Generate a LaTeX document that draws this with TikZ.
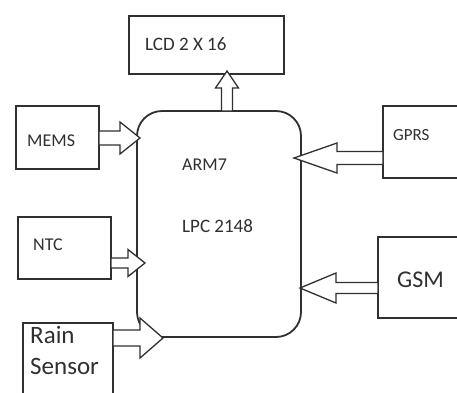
\documentclass[tikz,border=0pt]{standalone}
\usepackage{fontspec}
\setmainfont{Carlito}
\usetikzlibrary{calc}
\definecolor{ink}{HTML}{303030}
\tikzset{
  box/.style={draw=ink, line width=1.8pt, fill=white},
  lbl/.style={anchor=base west, inner sep=0pt, text=ink},
  blk/.style={draw=ink, line width=1.3pt, fill=white, line join=miter},
}
% #1 tail, #2 tip, #3 shaft half, #4 head half, #5 signed head length
\newcommand\hblockarrow[5]{%
  \draw[blk] let \p1=(#1), \p2=(#2) in
    ({\x1},{\y2+#3}) -- ({\x2-(#5)},{\y2+#3}) -- ({\x2-(#5)},{\y2+#4}) -- (\x2,\y2)
    -- ({\x2-(#5)},{\y2-#4}) -- ({\x2-(#5)},{\y2-#3}) -- ({\x1},{\y2-#3}) -- cycle;}
\newcommand\vblockarrow[5]{%
  \draw[blk] let \p1=(#1), \p2=(#2) in
    ({\x2+#3},{\y1}) -- ({\x2+#3},{\y2-(#5)}) -- ({\x2+#4},{\y2-(#5)}) -- (\x2,\y2)
    -- ({\x2-#4},{\y2-(#5)}) -- ({\x2-#3},{\y2-(#5)}) -- ({\x2-#3},{\y1}) -- cycle;}
\begin{document}
\begin{tikzpicture}[x=1pt,y=-1pt]
\clip (0,0) rectangle (457,392);
\fill[white] (0,0) rectangle (457,392);

% boxes
\draw[box] (129,16) rectangle (284,74);
\draw[box] (16,106) rectangle (99,169);
\coordinate (mems) at (99,138);
\draw[box] (18,217) rectangle (111,279);
\coordinate (ntc) at (111,263);
\draw[box] (23,323) rectangle (113,400);
\coordinate (rain) at (113,338);
\draw[box] (383,106) rectangle (470,178);
\coordinate (gprs) at (383,158);
\draw[box] (378,237) rectangle (470,318);
\coordinate (gsm) at (378,288);

% processor
\node[draw=ink, line width=1.8pt, rounded corners=25pt, minimum width=164pt,
      minimum height=226pt, inner sep=0pt] (arm) at (219,224) {};

% labels
\node[lbl, font=\fontsize{19}{22}\selectfont] at (145,50) {LCD 2 X 16};
\node[lbl, font=\fontsize{18}{22}\selectfont] at (27,146) {MEMS};
\node[lbl, font=\fontsize{18}{22}\selectfont] at (33,250) {NTC};
\node[lbl, font=\fontsize{25}{31}\selectfont, align=left, anchor=north west]
  at (30,326) {Rain\\Sensor};
\node[lbl, font=\fontsize{17}{22}\selectfont] at (393,140) {GPRS};
\node[lbl, font=\fontsize{24}{28}\selectfont] at (397,287) {GSM};
\node[lbl, font=\fontsize{18}{22}\selectfont] at (182,170) {ARM7};
\node[lbl, font=\fontsize{19}{22}\selectfont] at (182,232) {LPC 2148};

% arrow tips
\coordinate (armtop) at (227,111);
\coordinate (tLCD) at (227,71);
\coordinate (tMEMS) at (140,138);
\coordinate (tNTC) at (145,263);
\coordinate (tRAIN) at (163,338);
\coordinate (tGPRS) at (294,158);
\coordinate (tGSM) at (300,288);

% block arrows
\vblockarrow{armtop}{tLCD}{5.5pt}{11.5pt}{17pt}
\hblockarrow{mems}{tMEMS}{7pt}{16pt}{20pt}
\hblockarrow{ntc}{tNTC}{5pt}{13.5pt}{17pt}
\hblockarrow{rain}{tRAIN}{8pt}{20pt}{23pt}
\hblockarrow{gprs}{tGPRS}{6.5pt}{15pt}{-43pt}
\hblockarrow{gsm}{tGSM}{5.5pt}{15pt}{-36pt}
\end{tikzpicture}
\end{document}
